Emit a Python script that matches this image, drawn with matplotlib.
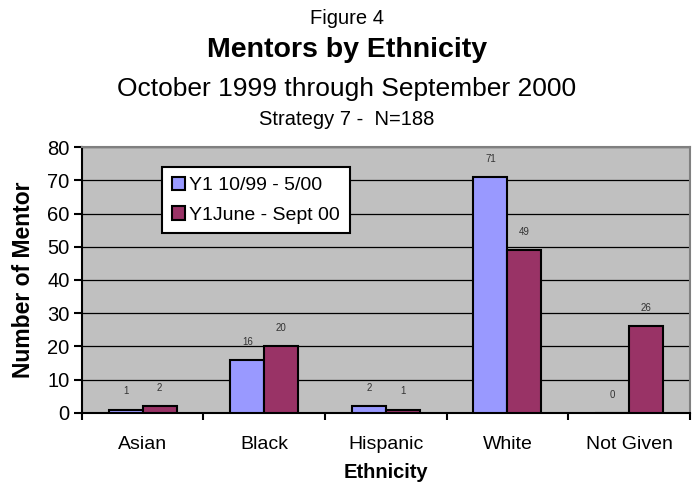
import matplotlib.pyplot as plt
import numpy as np

plt.rcParams['font.family'] = ['Liberation Sans', 'DejaVu Sans']

categories = ['Asian', 'Black', 'Hispanic', 'White', 'Not Given']
y1_oct_may = [1, 16, 2, 71, 0]
y1_june_sept = [2, 20, 1, 49, 26]
series_names = ['Y1 10/99 - 5/00', 'Y1June - Sept 00']

fig = plt.figure(figsize=(6.94, 4.84), dpi=100)
ax = fig.add_axes([0.118, 0.147, 0.876, 0.549])

x = np.arange(len(categories))
w = 0.28
b1 = ax.bar(x - w/2, y1_oct_may, w, color='#9999FF', edgecolor='black', linewidth=1.5,
            label=series_names[0], zorder=3)
b2 = ax.bar(x + w/2, y1_june_sept, w, color='#993366', edgecolor='black', linewidth=1.5,
            label=series_names[1], zorder=3)

for bars, vals in ((b1, y1_oct_may), (b2, y1_june_sept)):
    for r, v in zip(bars, vals):
        ax.annotate(str(v), (r.get_x() + r.get_width()/2, v), xytext=(0, 13),
                    textcoords='offset points', ha='center', va='center',
                    fontsize=7, color='#333333')

ax.set_facecolor('#C0C0C0')
ax.set_xlim(-0.5, 4.5)
ax.set_ylim(0, 80)
ax.set_yticks(range(0, 81, 10))
ax.yaxis.grid(True, color='black', linewidth=0.9)
ax.set_axisbelow(True)
ax.set_xticks(x)
ax.set_xticklabels(categories, fontsize=14)
ax.set_xticks(np.arange(-0.5, 5, 1), minor=True)
ax.tick_params(axis='x', which='major', length=0, pad=17)
ax.tick_params(axis='x', which='minor', length=5, width=1.5)
ax.tick_params(axis='y', length=6, width=1.5, labelsize=14.5, pad=3)
for s in ('left', 'bottom'):
    ax.spines[s].set_linewidth(1.5)
for s in ('top', 'right'):
    ax.spines[s].set_color('#808080')
    ax.spines[s].set_linewidth(1.5)

ax.set_ylabel('Number of Mentor', fontsize=16.5, fontweight='bold', labelpad=9)
ax.set_xlabel('Ethnicity', fontsize=14.5, fontweight='bold', labelpad=7)

leg = ax.legend(loc='upper left', bbox_to_anchor=(0.132, 0.925), borderaxespad=0,
                fontsize=14, frameon=True, fancybox=False, edgecolor='black',
                framealpha=1, handlelength=0.7, handleheight=0.7, handletextpad=0.2,
                labelspacing=0.6, borderpad=0.5)
leg.get_frame().set_linewidth(1.5)

fig.text(0.5, 0.962, 'Figure 4', ha='center', va='center', fontsize=14.5)
fig.text(0.5, 0.896, 'Mentors by Ethnicity', ha='center', va='center', fontsize=20.5,
         fontweight='bold')
fig.text(0.5, 0.816, 'October 1999 through September 2000', ha='center', va='center',
         fontsize=19)
fig.text(0.5, 0.754, 'Strategy 7 -  N=188', ha='center', va='center', fontsize=14.5)

fig.savefig('out.png', dpi=100)
